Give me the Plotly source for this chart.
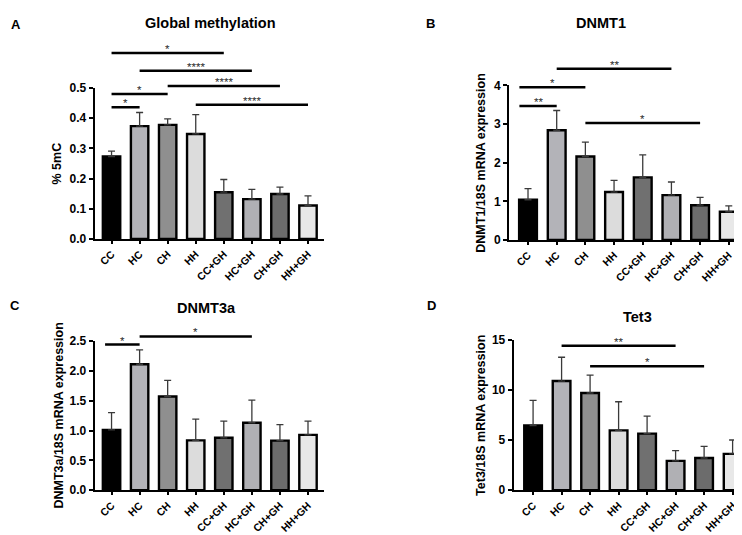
import plotly.graph_objects as go

W, H = 742, 535

# ---------------- data ----------------
categories = ["CC", "HC", "CH", "HH", "CC+GH", "HC+GH", "CH+GH", "HH+GH"]

global_meth_mean = [0.273, 0.374, 0.378, 0.348, 0.155, 0.132, 0.149, 0.111]
global_meth_err = [0.018, 0.045, 0.020, 0.064, 0.042, 0.032, 0.023, 0.032]

dnmt1_mean = [1.04, 2.84, 2.16, 1.24, 1.62, 1.16, 0.90, 0.73]
dnmt1_err = [0.29, 0.51, 0.37, 0.30, 0.58, 0.34, 0.20, 0.15]

dnmt3a_mean = [1.01, 2.11, 1.57, 0.835, 0.878, 1.13, 0.83, 0.927]
dnmt3a_err = [0.29, 0.24, 0.27, 0.355, 0.28, 0.38, 0.27, 0.23]

tet3_mean = [6.44, 10.87, 9.68, 5.96, 5.64, 2.92, 3.21, 3.62]
tet3_err = [2.50, 2.37, 1.79, 2.85, 1.73, 1.02, 1.15, 1.38]

# significance comparisons: (x start, x end, y level, label)
sig_global = [(0, 4, 0.616, "*"), (1, 5, 0.557, "****"), (2, 6, 0.507, "****"),
              (0, 2, 0.480, "*"), (3, 7, 0.445, "****"), (0, 1, 0.436, "*")]
sig_dnmt1 = [(-0.3, 1, 3.47, "**"), (-0.3, 2, 3.95, "*"), (1, 5, 4.43, "**"), (2, 6, 3.03, "*")]
sig_dnmt3a = [(-0.23, 1, 2.44, "*"), (1, 5, 2.575, "*")]
sig_tet3 = [(1, 5, 14.39, "**"), (2, 6, 12.34, "*")]

# ---------------- style ----------------
bar_colors = ["#000000", "#b3b3b8", "#8f8f8f", "#dcdcdc", "#707070", "#b0b0b4", "#6c6c6c", "#e8e8e8"]
FONT = "Liberation Sans, Arial, sans-serif"

panels = [
    dict(letter="A", title="Global methylation", ytitle="% 5mC",
         mean=global_meth_mean, err=global_meth_err, sig=sig_global,
         ymax=0.5, dtick=0.1, fmt=".1f",
         xpx=(86.7, 316), ypx=(230, 75), xr=(-0.6, 7.57),
         title_xy=(202, 8), letter_xy=(8, 10), ytitle_x=49),
    dict(letter="B", title="DNMT1", ytitle="DNMT1/18S mRNA expression",
         mean=dnmt1_mean, err=dnmt1_err, sig=sig_dnmt1,
         ymax=4, dtick=1, fmt="d",
         xpx=(501, 742), ypx=(231, 72.3), xr=(-0.663, 7.74),
         title_xy=(593, 8), letter_xy=(422.5, 9), ytitle_x=473),
    dict(letter="C", title="DNMT3a", ytitle="DNMT3a/18S mRNA expression",
         mean=dnmt3a_mean, err=dnmt3a_err, sig=sig_dnmt3a,
         ymax=2.5, dtick=0.5, fmt=".1f",
         xpx=(86.7, 316), ypx=(488, 334.7), xr=(-0.6, 7.57),
         title_xy=(198, 301), letter_xy=(7, 298), ytitle_x=51),
    dict(letter="D", title="Tet3", ytitle="Tet3/18S mRNA expression",
         mean=tet3_mean, err=tet3_err, sig=sig_tet3,
         ymax=15, dtick=5, fmt="d",
         xpx=(505.7, 742), ypx=(488, 333.3), xr=(-0.68, 7.61),
         title_xy=(629, 310), letter_xy=(423.5, 298), ytitle_x=473),
]

fig = go.Figure()
shapes = []
annotations = []
layout_axes = {}

for i, p in enumerate(panels):
    n = "" if i == 0 else str(i + 1)
    xa, ya = "x" + n, "y" + n
    fig.add_trace(go.Bar(
        x=categories, y=p["mean"], xaxis=xa, yaxis=ya, width=0.62,
        marker=dict(color=bar_colors, line=dict(color="black", width=2.4)),
        error_y=dict(type="data", array=p["err"], arrayminus=[0] * len(p["err"]),
                     symmetric=False, color="#3a3a3a", thickness=1.3, width=3.5),
        showlegend=False, hoverinfo="x+y",
    ))
    layout_axes["xaxis" + n] = dict(
        domain=[p["xpx"][0] / W, p["xpx"][1] / W], anchor=ya,
        range=list(p["xr"]), type="category",
        showline=True, linecolor="black", linewidth=2,
        ticks="outside", ticklen=3, tickwidth=1.5, tickcolor="black",
        tickangle=-45, showgrid=False, zeroline=False,
        tickfont=dict(family=FONT, size=10.5, color="black", weight="bold"),
    )
    layout_axes["yaxis" + n] = dict(
        domain=[1 - p["ypx"][0] / H, 1 - p["ypx"][1] / H], anchor=xa,
        range=[0, p["ymax"]], dtick=p["dtick"], tick0=0, tickformat=p["fmt"],
        showline=True, linecolor="black", linewidth=2,
        ticks="outside", ticklen=4, tickwidth=1.5, tickcolor="black",
        showgrid=False, zeroline=False,
        tickfont=dict(family=FONT, size=12, color="black", weight="bold"),
    )
    for (x0, x1, yv, lab) in p["sig"]:
        yd = yv / p["ymax"]
        shapes.append(dict(type="line", xref=xa, yref=ya + " domain",
                           x0=x0, x1=x1, y0=yd, y1=yd,
                           line=dict(color="black", width=2.5)))
        annotations.append(dict(xref=xa, yref=ya + " domain", x=(x0 + x1) / 2, y=yd,
                                text=lab, showarrow=False, xanchor="center", yanchor="middle",
                                yshift=4, font=dict(family=FONT, size=11.5, color="#2a2a2a")))
    # panel title
    annotations.append(dict(xref="paper", yref="paper",
                            x=p["title_xy"][0] / W, y=1 - p["title_xy"][1] / H,
                            text=p["title"], showarrow=False, xanchor="center", yanchor="middle",
                            font=dict(family=FONT, size=14.5, color="black", weight="bold")))
    # panel letter
    annotations.append(dict(xref="paper", yref="paper",
                            x=p["letter_xy"][0] / W, y=1 - p["letter_xy"][1] / H,
                            text=p["letter"], showarrow=False, xanchor="center", yanchor="middle",
                            font=dict(family=FONT, size=13, color="black", weight="bold")))
    # y-axis title
    annotations.append(dict(xref="paper", yref=ya + " domain",
                            x=p["ytitle_x"] / W, y=0.5, textangle=-90,
                            text=p["ytitle"], showarrow=False, xanchor="center", yanchor="middle",
                            font=dict(family=FONT, size=12.5, color="black", weight="bold")))

fig.update_layout(
    width=W, height=H, margin=dict(l=0, r=0, t=0, b=0),
    paper_bgcolor="white", plot_bgcolor="white",
    shapes=shapes, annotations=annotations,
    bargap=0.3, **layout_axes,
)

fig.write_html("out.html")
